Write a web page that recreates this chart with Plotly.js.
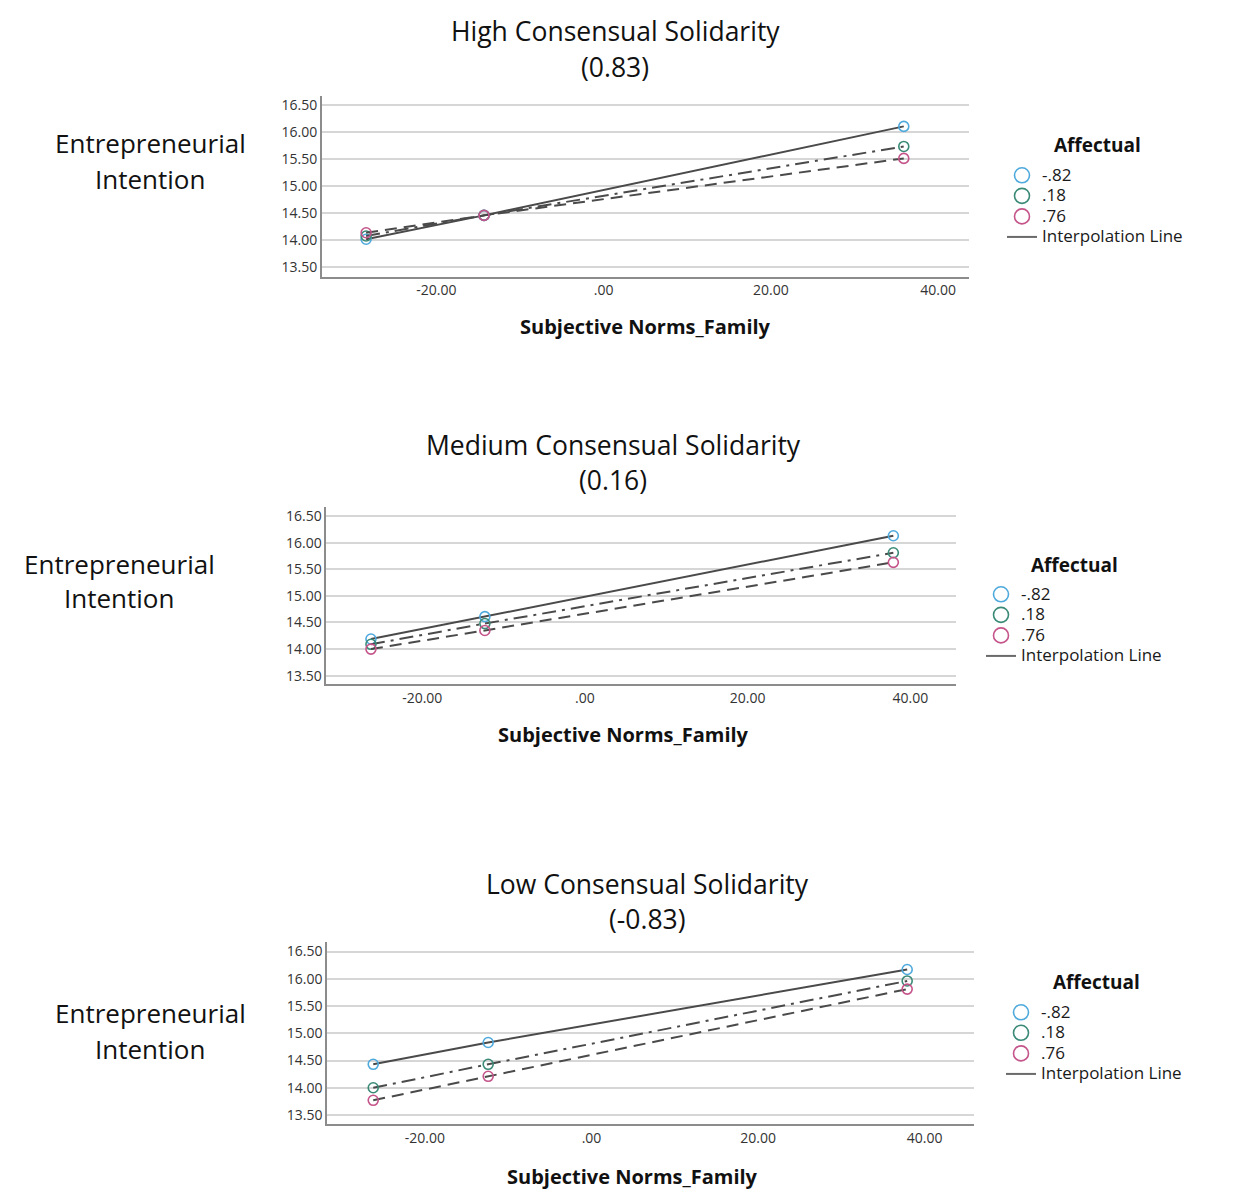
<!DOCTYPE html>
<html>
<head>
<meta charset="utf-8">
<script src="https://cdn.plot.ly/plotly-3.0.1.min.js"></script>
<style>
  html, body { margin: 0; padding: 0; background: #ffffff; }
  #chart { width: 1252px; height: 1191px; }
</style>
</head>
<body>
<div id="chart"></div>
<script>
// ---------------- DATA ----------------
const affectualLevels = ['-.82', '.18', '.76'];
const interpolationLabel = 'Interpolation Line';
const legendTitle = 'Affectual';
const xAxisTitle = 'Subjective Norms_Family';
const yAxisTitleLines = ['Entrepreneurial', 'Intention'];

const xTickVals = [-20, 0, 20, 40];
const xTickText = ['-20.00', '.00', '20.00', '40.00'];
const yTickVals = [13.5, 14.0, 14.5, 15.0, 15.5, 16.0, 16.5];
const yTickText = ['13.50', '14.00', '14.50', '15.00', '15.50', '16.00', '16.50'];

// High Consensual Solidarity (0.83)
const highTitle = ['High Consensual Solidarity', '(0.83)'];
const highX = [-28.4, -14.3, 35.9];
const highAffNeg82 = [14.02, 14.46, 16.10];
const highAff18 = [14.08, 14.46, 15.73];
const highAff76 = [14.14, 14.46, 15.51];

// Medium Consensual Solidarity (0.16)
const medTitle = ['Medium Consensual Solidarity', '(0.16)'];
const medX = [-26.3, -12.3, 37.9];
const medAffNeg82 = [14.19, 14.61, 16.13];
const medAff18 = [14.09, 14.48, 15.81];
const medAff76 = [14.00, 14.35, 15.63];

// Low Consensual Solidarity (-0.83)
const lowTitle = ['Low Consensual Solidarity', '(-0.83)'];
const lowX = [-26.2, -12.4, 37.9];
const lowAffNeg82 = [14.43, 14.83, 16.17];
const lowAff18 = [14.00, 14.43, 15.96];
const lowAff76 = [13.77, 14.21, 15.81];

// ---------------- STYLE / LAYOUT ----------------
const W = 1252, H = 1191;
const FONT = '"Open Sans", Lato, "DejaVu Sans", sans-serif';
const markerColors = ['#4ea9dd', '#3a8a77', '#c4548a'];
const lineDashes = ['solid', '14px,6px,3px,6px', '12px,7px'];
const lineColor = '#4a4a4a';

const px = v => v / W;          // horizontal pixel -> paper
const py = v => 1 - v / H;      // vertical pixel -> paper

const panels = [
  {
    title: highTitle, x: highX, ys: [highAffNeg82, highAff18, highAff76],
    xdom: [321.8, 969], ydom: [276.7, 96], xrange: [-33.7, 43.7], yrange: [13.33, 16.66],
    titleX: 615, titleY: [31, 67], ytX: 150, ytY: [143, 179], xtX: 645, xtY: 327,
    legX: 1002, legTop: 160, legTitleX: 1097, legTitleY: 145
  },
  {
    title: medTitle, x: medX, ys: [medAffNeg82, medAff18, medAff76],
    xdom: [326.2, 956], ydom: [684, 507], xrange: [-31.8, 45.6], yrange: [13.344, 16.67],
    titleX: 613, titleY: [445, 480], ytX: 119, ytY: [564, 598], xtX: 623, xtY: 734,
    legX: 981, legTop: 579, legTitleX: 1074, legTitleY: 565
  },
  {
    title: lowTitle, x: lowX, ys: [lowAffNeg82, lowAff18, lowAff76],
    xdom: [327, 973.5], ydom: [1124, 941.7], xrange: [-31.75, 45.86], yrange: [13.335, 16.68],
    titleX: 647, titleY: [884, 919], ytX: 150, ytY: [1013, 1049], xtX: 632, xtY: 1176,
    legX: 1001, legTop: 997, legTitleX: 1096, legTitleY: 982
  }
];

const legendLabel = t => '<span style="font-size:17px">' + t + '</span>';

const traces = [];
const annotations = [];
const layout = {
  width: W, height: H,
  margin: { l: 0, r: 0, t: 0, b: 0 },
  paper_bgcolor: '#ffffff',
  plot_bgcolor: '#ffffff',
  font: { family: FONT, color: '#1a1a1a' },
  showlegend: true,
  annotations: annotations
};

panels.forEach((p, i) => {
  const n = i === 0 ? '' : String(i + 1);
  const xa = 'x' + n, ya = 'y' + n;
  const legName = 'legend' + n;

  layout['xaxis' + n] = {
    domain: [px(p.xdom[0]), px(p.xdom[1])],
    range: p.xrange, anchor: ya,
    tickmode: 'array', tickvals: xTickVals, ticktext: xTickText,
    showgrid: false, zeroline: false, ticks: '',
    showline: true, linecolor: '#8c8c8c', linewidth: 1.5,
    tickfont: { family: FONT, size: 14, color: '#333333' },
    fixedrange: true
  };
  layout['yaxis' + n] = {
    domain: [py(p.ydom[0]), py(p.ydom[1])],
    range: p.yrange, anchor: xa,
    tickmode: 'array', tickvals: yTickVals, ticktext: yTickText,
    showgrid: true, gridcolor: '#d6d6d6', gridwidth: 2,
    zeroline: false, ticks: '',
    showline: true, linecolor: '#8c8c8c', linewidth: 1.5,
    tickfont: { family: FONT, size: 14, color: '#333333' },
    fixedrange: true
  };

  // data traces
  p.ys.forEach((ys, k) => {
    traces.push({
      type: 'scatter', mode: 'lines+markers',
      x: p.x, y: ys, xaxis: xa, yaxis: ya,
      name: affectualLevels[k], showlegend: false,
      line: { color: lineColor, width: 2, dash: lineDashes[k] },
      marker: { symbol: 'circle-open', size: 10, color: markerColors[k], line: { width: 1.6, color: markerColors[k] } },
      hoverinfo: 'x+y+name'
    });
  });
  // legend entries
  affectualLevels.forEach((lvl, k) => {
    traces.push({
      type: 'scatter', mode: 'markers', x: [null], y: [null], xaxis: xa, yaxis: ya,
      name: legendLabel(lvl), legend: legName, showlegend: true,
      marker: { symbol: 'circle-open', size: 15, color: markerColors[k], line: { width: 1.6, color: markerColors[k] } }
    });
  });
  traces.push({
    type: 'scatter', mode: 'lines', x: [null], y: [null], xaxis: xa, yaxis: ya,
    name: legendLabel(interpolationLabel), legend: legName, showlegend: true,
    line: { color: '#6a6a6a', width: 2 }
  });

  layout[legName] = {
    x: px(p.legX), xanchor: 'left', y: py(p.legTop), yanchor: 'top',
    bgcolor: 'rgba(0,0,0,0)', borderwidth: 0,
    font: { family: FONT, size: 13.5, color: '#1a1a1a' },
    tracegroupgap: 0, itemclick: false, itemdoubleclick: false
  };

  // legend title
  annotations.push({
    xref: 'paper', yref: 'paper', x: px(p.legTitleX), y: py(p.legTitleY),
    xanchor: 'center', yanchor: 'middle', showarrow: false, text: '<b>' + legendTitle + '</b>',
    font: { family: FONT, size: 19, color: '#111111' }
  });

  // panel titles
  p.title.forEach((t, j) => {
    annotations.push({
      xref: 'paper', yref: 'paper', x: px(p.titleX), y: py(p.titleY[j]),
      xanchor: 'center', yanchor: 'middle', showarrow: false, text: t,
      font: { family: FONT, size: 26.5, color: '#111111' }
    });
  });
  // y titles
  yAxisTitleLines.forEach((t, j) => {
    annotations.push({
      xref: 'paper', yref: 'paper', x: px(p.ytX), y: py(p.ytY[j]),
      xanchor: 'center', yanchor: 'middle', showarrow: false, text: t,
      font: { family: FONT, size: 26, color: '#111111' }
    });
  });
  // x title
  annotations.push({
    xref: 'paper', yref: 'paper', x: px(p.xtX), y: py(p.xtY),
    xanchor: 'center', yanchor: 'middle', showarrow: false, text: '<b>' + xAxisTitle + '</b>',
    font: { family: FONT, size: 20, color: '#111111' }
  });
});

Plotly.newPlot('chart', traces, layout, { displayModeBar: false, responsive: false });
</script>
</body>
</html>
